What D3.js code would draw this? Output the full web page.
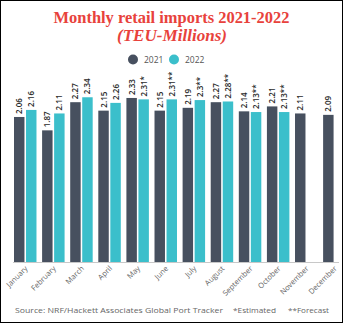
<!DOCTYPE html>
<html><head><meta charset="utf-8">
<script src="https://cdn.jsdelivr.net/npm/d3@7"></script>
<style>body{margin:0;background:#fff}svg{display:block}</style>
</head><body>
<svg id="c" width="343" height="323"></svg>
<script>
const months = ["January","February","March","April","May","June","July","August","September","October","November","December"];
const series = ["2021","2022"];
const values2021 = [2.06,1.87,2.27,2.15,2.33,2.15,2.19,2.27,2.14,2.21,2.11,2.09];
const values2022 = [2.16,2.11,2.34,2.26,2.31,2.31,2.3,2.28,2.13,2.13,null,null];
const labels2021 = ["2.06","1.87","2.27","2.15","2.33","2.15","2.19","2.27","2.14","2.21","2.11","2.09"];
const labels2022 = ["2.16","2.11","2.34","2.26","2.31*","2.31**","2.3**","2.28**","2.13**","2.13**",null,null];
const colors = ["#47505f","#3bbfcb"];

const svg = d3.select("#c");
svg.append("rect").attr("x",0.5).attr("y",0.5).attr("width",342).attr("height",322)
  .attr("fill","#fff").attr("stroke","#000").attr("stroke-width",1);

svg.append("text").attr("x",171.5).attr("y",23).attr("text-anchor","middle")
  .attr("font-family","Liberation Serif").attr("font-weight","bold").attr("font-size",17)
  .attr("fill","#e8423c").attr("textLength",236).attr("lengthAdjust","spacingAndGlyphs")
  .text("Monthly retail imports 2021-2022");
svg.append("text").attr("x",172).attr("y",41).attr("text-anchor","middle")
  .attr("font-family","Liberation Serif").attr("font-weight","bold").attr("font-style","italic").attr("font-size",17)
  .attr("fill","#e8423c").attr("textLength",110).attr("lengthAdjust","spacingAndGlyphs")
  .text("(TEU-Millions)");

// legend
const legX = [133,174];
series.forEach((s,i)=>{
  svg.append("circle").attr("cx",legX[i]).attr("cy",59.5).attr("r",5).attr("fill",colors[i]);
  svg.append("text").attr("x",legX[i]+11).attr("y",62.5).attr("font-family","Open Sans")
    .attr("font-size",8.5).attr("fill","#555").text(s);
});

const x = d3.scaleBand().domain(months).range([14,345.6]).paddingInner(0.2).paddingOuter(0);
const x1 = d3.scaleBand().domain(series).range([0,x.bandwidth()]).paddingInner(0.13);
const y = d3.scaleLinear().domain([0,2.5]).range([262,262-70.4*2.5]);

const data = months.map((m,i)=>({m, vals:[values2021[i],values2022[i]], labs:[labels2021[i],labels2022[i]]}));
const g = svg.append("g");
data.forEach(d=>{
  series.forEach((s,k)=>{
    const v = d.vals[k];
    if (v==null) return;
    const bx = x(d.m)+x1(s);
    g.append("rect").attr("x",bx).attr("y",y(v)).attr("width",x1.bandwidth()).attr("height",y(0)-y(v))
      .attr("fill",colors[k]);
    const cx = bx + x1.bandwidth()/2 + 3;
    const ty = y(v)-3;
    g.append("text").attr("transform",`translate(${cx},${ty}) rotate(-90)`)
      .attr("font-family","Open Sans").attr("font-weight","600").attr("font-size",8)
      .attr("fill","#2b2b2b").text(d.labs[k]);
  });
});

svg.append("line").attr("x1",13).attr("x2",339).attr("y1",262.5).attr("y2",262.5)
  .attr("stroke","#c8c8c8").attr("stroke-width",1);

months.forEach(m=>{
  const cx = x(m)+x.bandwidth()/2+3;
  svg.append("text").attr("transform",`translate(${cx},269) rotate(-45)`)
    .attr("text-anchor","end").attr("font-family","Open Sans").attr("font-size",7.5)
    .attr("fill","#666").text(m);
});

const foot = [["Source: NRF/Hackett Associates Global Port Tracker",15,208],["*Estimated",233,43],["**Forecast",288,41]];
foot.forEach(f=>{
  svg.append("text").attr("x",f[1]).attr("y",313).attr("font-family","Open Sans").attr("font-size",8)
    .attr("fill","#666").attr("textLength",f[2]).attr("lengthAdjust","spacingAndGlyphs").text(f[0]);
});
</script>
</body></html>
